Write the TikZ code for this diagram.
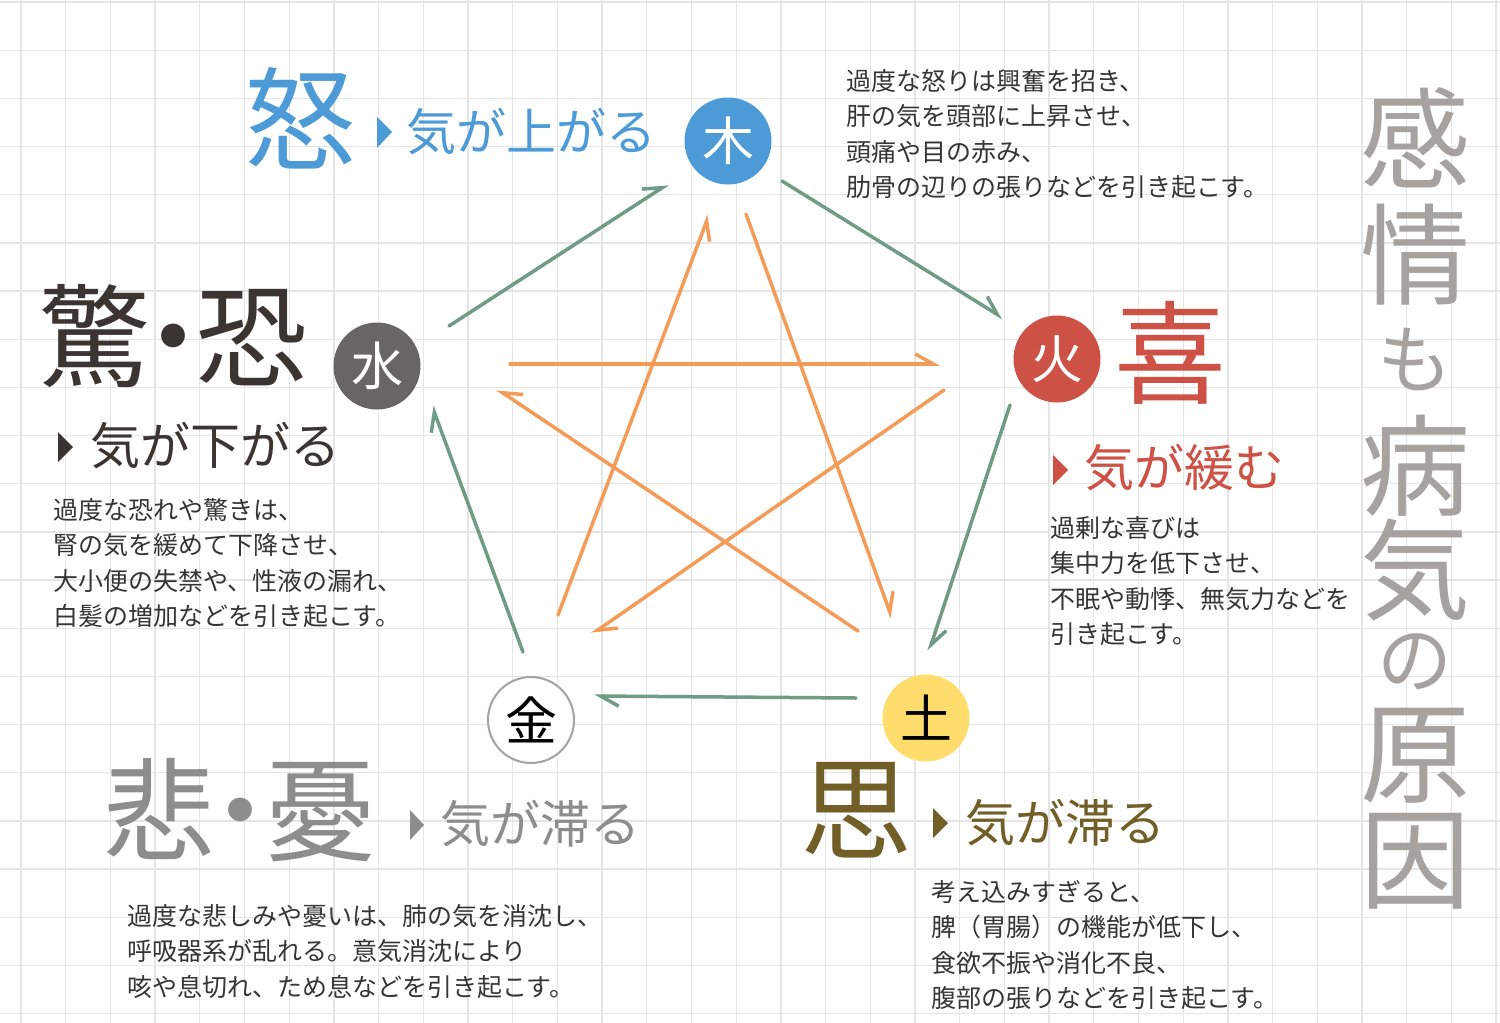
\documentclass[tikz,border=0pt]{standalone}
\usepackage{fontspec}
\setmainfont{Noto Sans CJK JP}
\usepackage{tikz}
\usetikzlibrary{arrows.meta,positioning}

\definecolor{mokucol}{HTML}{4C9AD6}
\definecolor{kacol}{HTML}{CE5145}
\definecolor{docol}{HTML}{FEDD6C}
\definecolor{kincol}{HTML}{A3A3A3}
\definecolor{suicol}{HTML}{686664}
\definecolor{kyoucol}{HTML}{3B3431}
\definecolor{hicol}{HTML}{8D8D8D}
\definecolor{shicol}{HTML}{725F27}
\definecolor{titlegray}{HTML}{A5A29F}
\definecolor{textgray}{HTML}{353535}
\definecolor{seigreen}{HTML}{709B85}
\definecolor{kokuorange}{HTML}{F39B57}
\definecolor{gridcol}{HTML}{E5E5E5}

\tikzset{
  elem/.style={circle, minimum size=87pt, inner sep=0pt, font=\fontsize{52}{52}\selectfont},
  jou/.style={inner sep=0pt, font=\fontsize{112}{112}\selectfont},
  kibun/.style={inner sep=0pt, anchor=west, font=\fontsize{50}{50}\selectfont},
  setsumei/.style={inner sep=0pt, anchor=north west, align=left, text=textgray,
    font=\fontsize{25}{35.5}\selectfont},
  sousei/.style={-{Straight Barb[left,length=18pt,width=20pt]}, line width=3.5pt,
    line cap=round, seigreen},
  soukoku/.style={-{Straight Barb[#1,length=18pt,width=20pt]}, line width=3.5pt,
    line cap=round, kokuorange},
  soukoku/.default=left
}

\begin{document}
\begin{tikzpicture}[x=1pt,y=-1pt]

  \useasboundingbox (0,0) rectangle (1500,1023);
  \fill[white] (0,0) rectangle (1500,1023);

  % grid
  \foreach \i in {0,...,33}{
    \draw[gridcol,line width=1.3pt] ({21+44.7*\i},0) -- ({21+44.7*\i},1023);
  }
  \foreach \j in {0,...,21}{
    \draw[gridcol,line width=1.3pt] (0,{2+48.17*\j}) -- (1500,{2+48.17*\j});
  }

    \node[elem, fill=mokucol, text=white] (moku) at (728,141) {木};
    \node[elem, fill=kacol, text=white] (ka) at (1057,359) {火};
    \node[elem, fill=docol, text=black] (do) at (926,718) {土};
    \node[elem, fill=white, draw=kincol, line width=2pt, text=black, minimum size=86pt] (kin) at (531,720) {金};
    \node[elem, fill=suicol, text=white] (sui) at (377,366) {水};

    \coordinate (g1a) at (449,326); \coordinate (g1b) at (668,184);
    \coordinate (g2a) at (782,181); \coordinate (g2b) at (1003,318);
    \coordinate (g3a) at (1010,405); \coordinate (g3b) at (929,651);
    \coordinate (g4a) at (856,698); \coordinate (g4b) at (594,696);
    \coordinate (g5a) at (523,652); \coordinate (g5b) at (432,406);

    \draw[sousei] (g1a) -- (g1b);
    \draw[sousei] (g2a) -- (g2b);
    \draw[sousei] (g3a) -- (g3b);
    \draw[sousei] (g4a) -- (g4b);
    \draw[sousei] (g5a) -- (g5b);

    \coordinate (o1a) at (510,364); \coordinate (o1b) at (940,364);
    \coordinate (o2a) at (944,390); \coordinate (o2b) at (592,634);
    \coordinate (o3a) at (558,615); \coordinate (o3b) at (709,215);
    \coordinate (o4a) at (746,214); \coordinate (o4b) at (892,618);
    \coordinate (o5a) at (858,631); \coordinate (o5b) at (497,389);

    \draw[soukoku] (o1a) -- (o1b);
    \draw[soukoku] (o2a) -- (o2b);
    \draw[soukoku=right] (o3a) -- (o3b);
    \draw[soukoku] (o4a) -- (o4b);
    \draw[soukoku=right] (o5a) -- (o5b);

    \node[jou, text=mokucol] (ikari) at (300,118) {怒};
    \fill[mokucol] (377,117) -- (392,132) -- (377,148) -- cycle;
    \node[kibun, text=mokucol] (kiage) at (406,132) {気が上がる};

    \node[jou, text=kacol] (yorokobi) at (1170,353) {喜};
    \fill[kacol] (1053,455) -- (1068,470) -- (1053,485) -- cycle;
    \node[kibun, text=kacol] (kiyurumu) at (1084,468) {気が緩む};

    \node[jou, text=kyoucol] (odoroki) at (173,336) {驚\kern-.3em・\kern-.3em恐};
    \fill[kyoucol] (58,432) -- (73,447) -- (58,462) -- cycle;
    \node[kibun, text=kyoucol] (kisagaru) at (90,446) {気が下がる};

    \node[jou, text=hicol] (kanashimi) at (240,810) {悲\kern-.28em・\kern-.28em憂};
    \fill[hicol] (410,810) -- (424,825) -- (410,840) -- cycle;
    \node[kibun, text=hicol] (kitaru) at (440,824) {気が滞る};

    \node[jou, text=shicol] (omoi) at (856,810) {思};
    \fill[shicol] (933,808) -- (948,823) -- (933,838) -- cycle;
    \node[kibun, text=shicol] (kitaru2) at (965,823) {気が滞る};

    \node[setsumei] (setsu-moku) at (846,69) {過度な怒りは興奮を招き、\\肝の気を頭部に上昇させ、\\頭痛や目の赤み、\\肋骨の辺りの張りなどを引き起こす。};
    \node[setsumei] (setsu-ka) at (1050,516) {過剰な喜びは\\集中力を低下させ、\\不眠や動悸、無気力などを\\引き起こす。};
    \node[setsumei] (setsu-sui) at (53,498) {過度な恐れや驚きは、\\腎の気を緩めて下降させ、\\大小便の失禁や、性液の漏れ、\\白髪の増加などを引き起こす。};
    \node[setsumei] (setsu-kin) at (127,904) {過度な悲しみや憂いは、肺の気を消沈し、\\呼吸器系が乱れる。意気消沈により\\咳や息切れ、ため息などを引き起こす。};
    \node[setsumei] (setsu-do) at (931,880) {考え込みすぎると、\\脾（胃腸）の機能が低下し、\\食欲不振や消化不良、\\腹部の張りなどを引き起こす。};

    \foreach \ch/\yy/\sz [count=\n] in {感/138/110,情/255/110,も/360/75,病/466/110,気/570/110,の/662/75,原/756/110,因/861/110}{
      \node[inner sep=0pt, text=titlegray, font=\fontsize{\sz}{\sz}\selectfont] (midashi\n) at (1415,\yy) {\ch};
    }

\end{tikzpicture}
\end{document}
